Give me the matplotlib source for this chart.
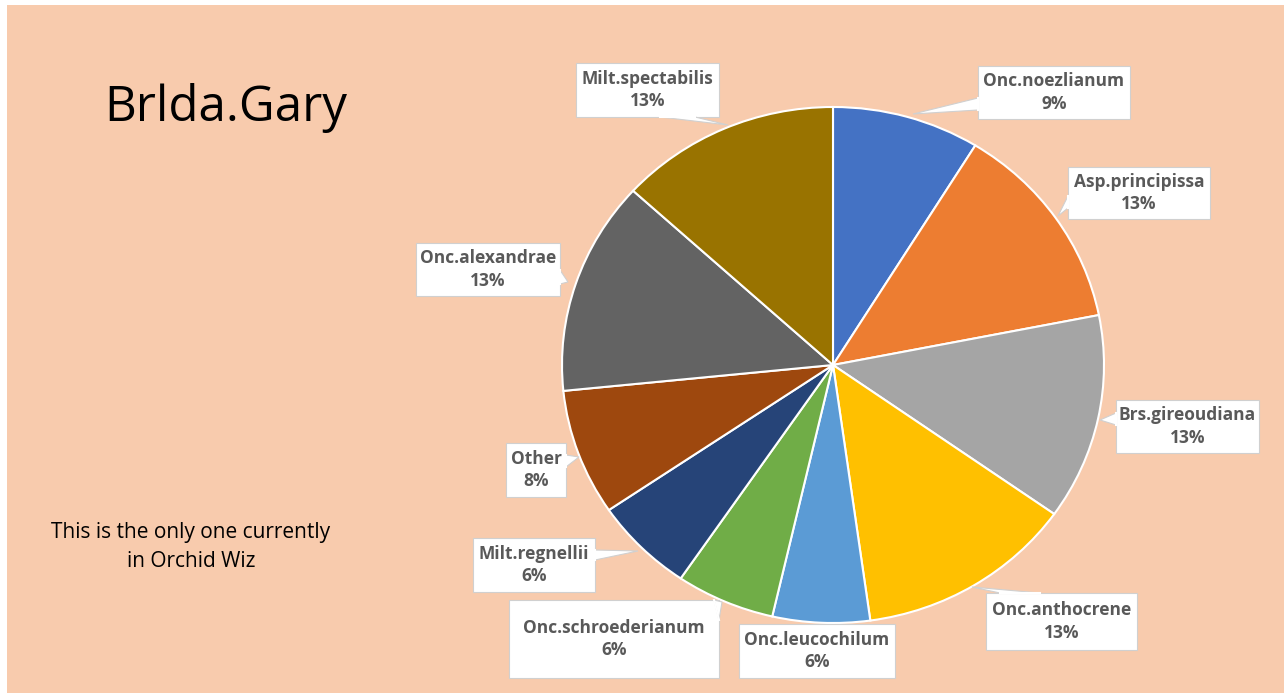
import matplotlib
matplotlib.use("Agg")
import matplotlib.pyplot as plt
from matplotlib.patches import Rectangle, Polygon

# ---- data ----
categories = ["Onc.noezlianum", "Asp.principissa", "Brs.gireoudiana", "Onc.anthocrene",
              "Onc.leucochilum", "Onc.schroederianum", "Milt.regnellii", "Other",
              "Onc.alexandrae", "Milt.spectabilis"]
shares = [8.8, 13.1, 12.9, 13.0, 5.8, 5.9, 6.0, 7.9, 13.4, 13.2]
colors = ["#4472C4", "#ED7D31", "#A5A5A5", "#FFC000", "#5B9BD5",
          "#70AD47", "#264478", "#9E480E", "#636363", "#997300"]
title_text = "Brlda.Gary"
note_text = "This is the only one currently\nin Orchid Wiz"

# ---- layout (pixel coordinates, y from top) ----
W, H = 1284, 693
# label boxes: (x0, y0, x1, y1), pointer tip (x, y) or None, pointer base points
boxes = [
    ((978, 66, 1130, 119), (913, 114), [(978, 98), (978, 110)]),
    ((1068, 167, 1210, 219), (1058, 216), [(1068, 196), (1068, 208)]),
    ((1116, 400, 1259, 453), (1100, 420), [(1116, 413), (1116, 425)]),
    ((986, 593, 1137, 650), (972, 587), [(1000, 593), (1040, 593)]),
    ((739, 624, 895, 678), None, None),
    ((509, 600, 719, 678), (722, 602), [(714, 600), (719, 620)]),
    ((473, 538, 595, 592), (638, 551), [(595, 550), (595, 560)]),
    ((506, 443, 566, 497), (579, 457), [(566, 455), (566, 467)]),
    ((416, 243, 560, 296), (568, 282), [(560, 270), (560, 284)]),
    ((576, 63, 719, 117), (728, 125), [(660, 117), (695, 117)]),
]

def fx(x):
    return x / W

def fy(y):
    return 1 - y / H

fig = plt.figure(figsize=(W / 100, H / 100), dpi=100)
fig.patch.set_facecolor("white")
fig.patches.append(Rectangle((fx(7), 0), 1 - fx(7), fy(5), transform=fig.transFigure,
                             facecolor="#F8CBAD", edgecolor="none", zorder=-5))

# pie axes (ellipse slightly wider than tall as in reference)
cx, cy, rx, ry = 833, 365, 271, 258
ax = fig.add_axes([fx(cx - rx), fy(cy + ry), 2 * rx / W, 2 * ry / H])
ax.set_zorder(1)
ax.pie(shares, colors=colors, startangle=90, counterclock=False,
       wedgeprops=dict(edgecolor="white", linewidth=1.5))
ax.set_xlim(-1, 1)
ax.set_ylim(-1, 1)
ax.set_aspect("auto")
ax.axis("off")

label_font = dict(family=["Open Sans", "DejaVu Sans"], fontsize=12.5,
                  fontweight="bold", color="#595959")
total = sum(shares)

for name, val, (box, tip, base) in zip(categories, shares, boxes):
    x0, y0, x1, y1 = box
    fig.patches.append(Rectangle((fx(x0), fy(y1)), fx(x1) - fx(x0), fy(y0) - fy(y1),
                                 transform=fig.transFigure, facecolor="white",
                                 edgecolor="#D0D0D0", linewidth=0.8, zorder=3))
    if tip is not None:
        pts = [(fx(base[0][0]), fy(base[0][1])), (fx(tip[0]), fy(tip[1])),
               (fx(base[1][0]), fy(base[1][1]))]
        fig.patches.append(Polygon(pts, closed=True, transform=fig.transFigure,
                                   facecolor="white", edgecolor="#D0D0D0",
                                   linewidth=0.8, zorder=3))
        fig.lines.append(plt.Line2D([pts[0][0], pts[2][0]], [pts[0][1], pts[2][1]],
                                    transform=fig.transFigure, color="white",
                                    linewidth=1.5, zorder=3.5))
    pct = round(val / total * 100)
    fig.text(fx((x0 + x1) / 2), fy((y0 + y1) / 2), f"{name}\n{pct}%", ha="center",
             va="center", linespacing=1.32, zorder=4, **label_font)

fig.text(fx(104), fy(108), title_text, ha="left", va="center",
         family=["Open Sans", "DejaVu Sans"], fontsize=35.5, color="black")
fig.text(fx(191), fy(547), note_text, ha="center", va="center", linespacing=1.45,
         family=["Open Sans", "DejaVu Sans"], fontsize=15, color="black")

fig.savefig("out.png", dpi=100, facecolor=fig.get_facecolor())
